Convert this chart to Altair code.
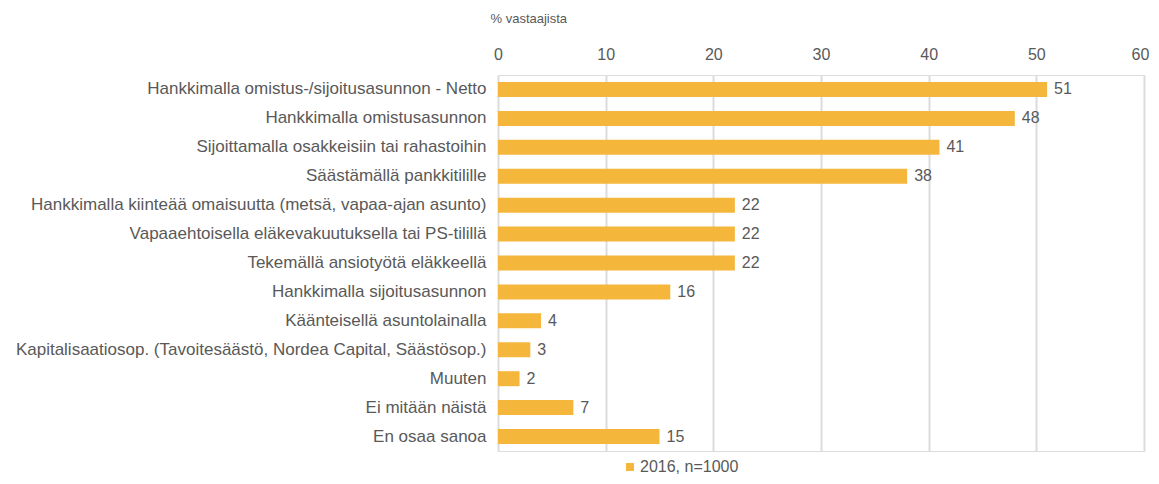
import altair as alt
import pandas as pd

categories = [
    "Hankkimalla omistus-/sijoitusasunnon - Netto",
    "Hankkimalla omistusasunnon",
    "Sijoittamalla osakkeisiin tai rahastoihin",
    "Säästämällä pankkitilille",
    "Hankkimalla kiinteää omaisuutta (metsä, vapaa-ajan asunto)",
    "Vapaaehtoisella eläkevakuutuksella tai PS-tilillä",
    "Tekemällä ansiotyötä eläkkeellä",
    "Hankkimalla sijoitusasunnon",
    "Käänteisellä asuntolainalla",
    "Kapitalisaatiosop. (Tavoitesäästö, Nordea Capital, Säästösop.)",
    "Muuten",
    "Ei mitään näistä",
    "En osaa sanoa",
]
values = [51, 48, 41, 38, 22, 22, 22, 16, 4, 3, 2, 7, 15]
series_name = "2016, n=1000"
x_ticks = [0, 10, 20, 30, 40, 50, 60]

df = pd.DataFrame({"kategoria": categories, "arvo": values, "sarja": series_name})

FONT = "Liberation Sans"
TXT = "#595959"
BAR = "#F4B63B"

y_enc = alt.Y(
    "kategoria:N",
    sort=categories,
    scale=alt.Scale(paddingInner=0.48, paddingOuter=0.24),
    axis=alt.Axis(
        title=None, domain=False, ticks=False, tickSize=0, labelPadding=12,
        labelFontSize=17, labelColor=TXT, labelFont=FONT, labelLimit=600,
    ),
)

bars = alt.Chart(df).mark_bar(size=15).encode(
    x=alt.X(
        "arvo:Q",
        scale=alt.Scale(domain=[0, 60], nice=False),
        axis=alt.Axis(
            orient="top", values=x_ticks, title="% vastaajista",
            titleAnchor="start", titleAlign="left", titleX=-8, titleY=-57,
            titleBaseline="middle", titleFontWeight="normal", titleFontSize=13,
            titleColor=TXT, titleFont=FONT,
            domain=False, ticks=False, tickSize=0, labelPadding=13,
            labelFontSize=16, labelColor=TXT, labelFont=FONT, labelFlush=False,
            labelOffset={"condition": {"test": "datum.value == 60", "value": -4}, "value": 0},
            grid=True, gridColor="#dcdcdc", gridWidth=2,
        ),
    ),
    y=y_enc,
    color=alt.Color(
        "sarja:N",
        scale=alt.Scale(range=[BAR]),
        legend=alt.Legend(
            title=None, orient="none", legendX=124, legendY=384,
            symbolType="square", symbolSize=64, symbolStrokeWidth=0,
            labelFontSize=16, labelColor=TXT, labelFont=FONT, padding=0,
            labelOffset=2,
        ),
    ),
)

labels = alt.Chart(df).mark_text(
    align="left", baseline="middle", dx=7, fontSize=16, color=TXT, font=FONT
).encode(
    x=alt.X("arvo:Q"),
    y=alt.Y("kategoria:N", sort=categories),
    text=alt.Text("arvo:Q"),
)

chart = (
    alt.layer(bars, labels)
    .properties(
        width=646, height=376,
        autosize=alt.AutoSizeParams(type="none"),
        padding={"left": 490, "top": 67, "right": 7, "bottom": 25},
    )
    .configure_view(stroke=None)
    .configure(background="white")
)

chart.save("out.html", embed_options={"renderer": "svg", "actions": False})
